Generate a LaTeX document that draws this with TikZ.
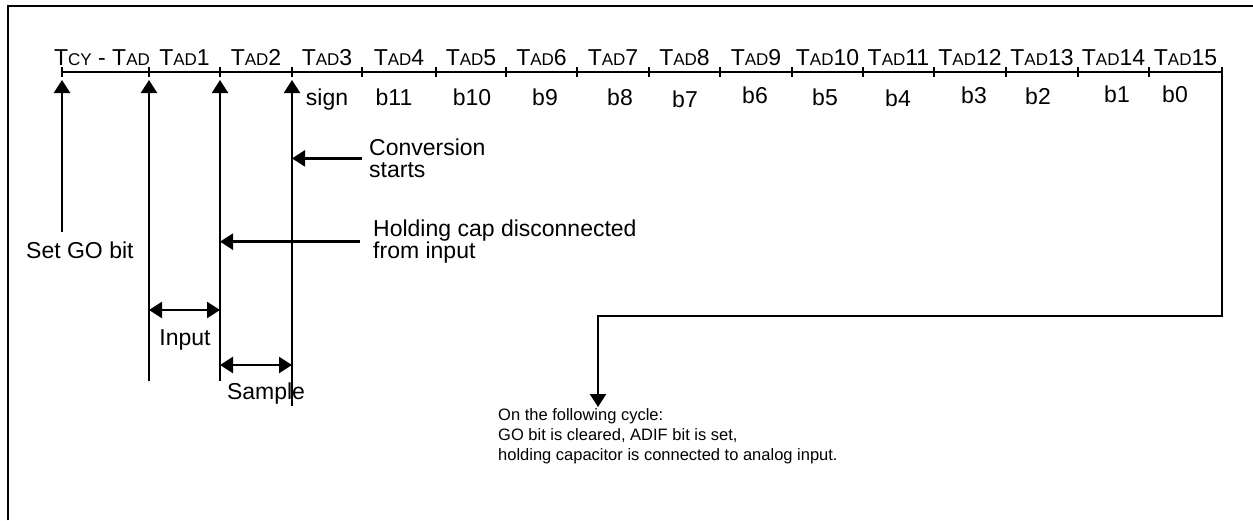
\documentclass[tikz,border=0pt]{standalone}
\usepackage{fontspec}
\setmainfont{Liberation Sans}
\usetikzlibrary{arrows.meta}
\newcommand\smc[1]{{\fontsize{17}{17}\selectfont #1}}
\begin{document}
\begin{tikzpicture}[x=1pt,y=-1pt, line width=2.4pt,
  txt/.style={font=\fontsize{23}{21.5}\selectfont, inner sep=0pt, align=left},
  notetxt/.style={font=\fontsize{16.5}{20}\selectfont, inner sep=0pt, align=left},
  lab/.style={txt, anchor=base},
  arr/.style={-{Triangle[length=13pt,width=16pt]}},
  dbl/.style={{Triangle[length=13pt,width=16pt]}-{Triangle[length=13pt,width=16pt]}}]
\useasboundingbox (0,0) rectangle (1253,520);
\draw[line width=2pt] (8,520) -- (8,6) -- (1253,6);
% timeline
\foreach \x [count=\i from 0] in {62,149,220,292,362,436,506,577,649,720,792,863,934,1006,1078,1149,1222}
  {\coordinate (t\i) at (\x,72); \draw (\x,67) -- (\x,77);}
\draw (t0) -- (t16);
% header labels
\node[lab] (h0) at (102,65) {T\smc{CY} - T\smc{AD}};
\foreach \a/\b/\n [count=\k] in {149/220/1,220/292/2,292/362/3,362/436/4,436/506/5,506/577/6,577/649/7,649/720/8,720/792/9,792/863/10,863/934/11,934/1006/12,1006/1078/13,1078/1149/14,1149/1222/15}
  \node[lab] (h\k) at ({(\a+\b)/2},65) {T\smc{AD}\n};
% bit labels
\foreach \x/\y/\t [count=\k] in {327/105/sign,394/105/b11,472/105/b10,545/105/b9,620/105/b8,685/107/b7,755/103/b6,825/105/b5,898/106/b4,974/103/b3,1038/104/b2,1117/102/b1,1175/102/b0}
  \node[lab] (bit\k) at (\x,\y) {\t};
% vertical event lines
\coordinate (g0) at (62,232);
\coordinate (g1) at (149,381);
\coordinate (g2) at (220,381);
\coordinate (g3) at (292,406);
\draw[arr] (g0) -- (62,80);
\draw[arr] (g1) -- (149,80);
\draw[arr] (g2) -- (220,80);
\draw[arr] (g3) -- (292,80);
% annotations
\node[txt, anchor=north west] (conv) at (368,138) {Conversion\\starts};
\draw[arr] ([xshift=-6pt]conv.west) -- (conv.west -| g3);
\node[txt, anchor=north west] (hold) at (372,219) {Holding cap disconnected\\from input};
\draw[arr] ([xshift=-12pt]hold.west) -- (hold.west -| g2);
\node[lab, anchor=base west] (go) at (25,258) {Set GO bit};
\coordinate (i1) at (149,310); \coordinate (i2) at (220,310);
\draw[dbl] (i1) -- (i2);
\node[lab] (inp) at (185,345) {Input};
\coordinate (s1) at (220,365); \coordinate (s2) at (292,365);
\draw[dbl] (s1) -- (s2);
\node[lab] (smp) at (266,399) {Sample};
% end of conversion
\node[notetxt, anchor=north west] (note) at (497,407) {On the following cycle:\\GO bit is cleared, ADIF bit is set,\\holding capacitor is connected to analog input.};
\coordinate (r3) at (598,316);
\draw[arr] (t16) |- (r3) -- (r3 |- note.north);
\end{tikzpicture}
\end{document}
